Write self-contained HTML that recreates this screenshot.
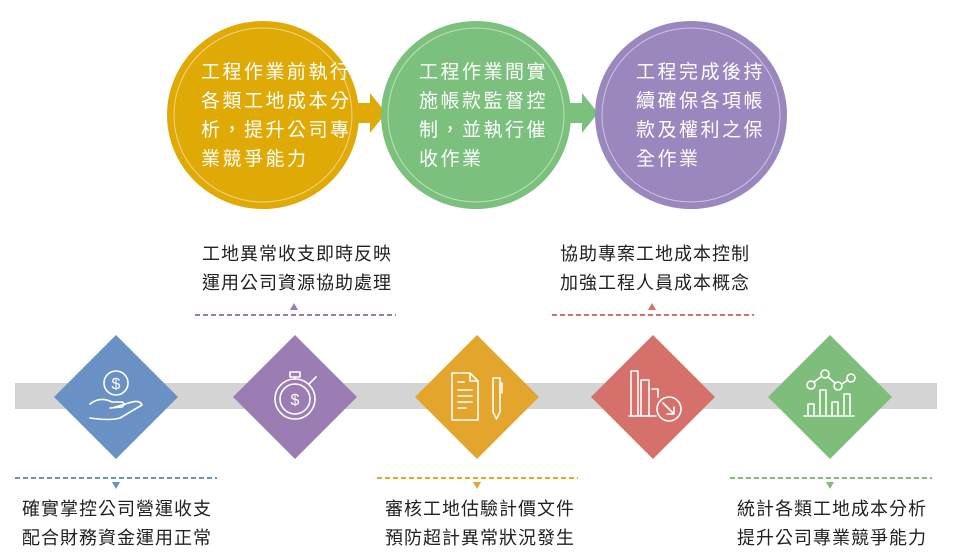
<!DOCTYPE html>
<html><head><meta charset="utf-8"><style>
body{margin:0;width:959px;height:556px;background:#fff;overflow:hidden;position:relative;font-family:"Liberation Sans","Noto Sans CJK TC",sans-serif}
.t{position:absolute;color:#222;font-size:18px;line-height:29px;white-space:nowrap;letter-spacing:1px}
.c{position:absolute;color:#fff;font-size:19px;line-height:29px;white-space:nowrap;letter-spacing:2.5px}
</style></head><body>
<svg width="959" height="556" style="position:absolute;left:0;top:0">
<polygon points="354,103 370,103 370,93 386,113 370,133 370,123 354,123" fill="#E0AA06"/>
<polygon points="565,103 582,103 582,93 598,113 582,133 582,123 565,123" fill="#7BC07C"/>
<ellipse cx="263" cy="115" rx="96" ry="94" fill="#E0AA06"/>
<ellipse cx="263" cy="115" rx="89" ry="87" fill="none" stroke="#fff" stroke-opacity=".5" stroke-width="1"/>
<ellipse cx="476" cy="115" rx="95" ry="94" fill="#7BC07C"/>
<ellipse cx="476" cy="115" rx="88" ry="87" fill="none" stroke="#fff" stroke-opacity=".5" stroke-width="1"/>
<ellipse cx="691" cy="115" rx="96" ry="94" fill="#9A87BE"/>
<ellipse cx="691" cy="115" rx="89" ry="87" fill="none" stroke="#fff" stroke-opacity=".5" stroke-width="1"/>
<rect x="15" y="383" width="922" height="26" fill="#D4D4D4"/>
<polygon points="116,335 178,397 116,459 54,397" fill="#6A91C3"/>
<polygon points="295,335 357,397 295,459 233,397" fill="#9B7DB4"/>
<polygon points="477,335 539,397 477,459 415,397" fill="#E3A52C"/>
<polygon points="653,335 715,397 653,459 591,397" fill="#D5716A"/>
<polygon points="830,335 892,397 830,459 768,397" fill="#7FBE7A"/>
<g stroke-width="2" stroke-dasharray="5,3">
<line x1="195" y1="315" x2="396" y2="315" stroke="#9B7DB4"/>
<line x1="552" y1="315" x2="754" y2="315" stroke="#D5716A"/>
<line x1="15" y1="478" x2="217" y2="478" stroke="#6A91C3"/>
<line x1="377" y1="478" x2="578" y2="478" stroke="#E3A52C"/>
<line x1="730" y1="478" x2="932" y2="478" stroke="#7FBE7A"/>
</g>
<polygon points="294,303 298,310 290,310" fill="#9B7DB4"/>
<polygon points="652,303 656,310 648,310" fill="#D5716A"/>
<polygon points="112,482 120,482 116,489" fill="#6A91C3"/>
<polygon points="473,482 481,482 477,489" fill="#E3A52C"/>
<polygon points="826,482 834,482 830,489" fill="#7FBE7A"/>
<g fill="none" stroke="#fff" stroke-width="1.6" stroke-linecap="round" stroke-linejoin="round">
<circle cx="116" cy="383" r="12"/>
<text x="116" y="389" font-size="16" fill="#fff" stroke="none" text-anchor="middle" font-family="Liberation Sans">$</text>
<path d="M90,404 q10,-8 22,-2 l10,0 q4,2 0,5 l-12,1 M112,408 l20,-6 q8,-2 10,3 l-22,13 q-10,3 -30,0"/>
<circle cx="295" cy="399" r="20"/><circle cx="295" cy="399" r="15"/>
<rect x="290" y="372" width="10" height="5"/><line x1="295" y1="377" x2="295" y2="379"/>
<line x1="309" y1="384" x2="316" y2="377"/>
<text x="295" y="405" font-size="16" fill="#fff" stroke="none" text-anchor="middle" font-family="Liberation Sans">$</text>
<path d="M452,373 h18 l8,8 v39 h-26 z M470,373 v8 h8"/>
<line x1="458" y1="382" x2="464" y2="382"/><line x1="458" y1="390" x2="472" y2="390"/><line x1="458" y1="396" x2="472" y2="396"/><line x1="458" y1="402" x2="472" y2="402"/><line x1="458" y1="408" x2="466" y2="408"/>
<path d="M493,378 h7 v34 l-3.5,7 l-3.5,-7 z M500,383 h2 v10"/>
<path d="M631,371 h7 v45 h-7 z M641,380 h8 v36 h-8 z M652,389 h6 v8"/><line x1="629" y1="416" x2="656" y2="416"/>
<circle cx="669" cy="409" r="12"/><path d="M663,403 l11,11 M667,414 h7 v-7"/>
<path d="M804,416 h50 M808,416 v-12 h6 v12 M820,416 v-26 h6 v26 M832,416 v-14 h6 v14 M844,416 v-22 h6 v22"/>
<circle cx="811" cy="385" r="4"/><circle cx="825" cy="374" r="4"/><circle cx="838" cy="386" r="4"/><circle cx="851" cy="378" r="4"/>
<path d="M814,382 l8,-6 M828,377 l7,6 M842,384 l6,-4"/>
</g>
</svg>
<div class="c" style="left:201px;top:58px">工程作業前執行<br>各類工地成本分<br>析，提升公司專<br>業競爭能力</div>
<div class="c" style="left:419px;top:58px">工程作業間實<br>施帳款監督控<br>制，並執行催<br>收作業</div>
<div class="c" style="left:636px;top:58px">工程完成後持<br>續確保各項帳<br>款及權利之保<br>全作業</div>
<div class="t" style="left:202px;top:240px">工地異常收支即時反映<br>運用公司資源協助處理</div>
<div class="t" style="left:560px;top:240px">協助專案工地成本控制<br>加強工程人員成本概念</div>
<div class="t" style="left:22px;top:495px">確實掌控公司營運收支<br>配合財務資金運用正常</div>
<div class="t" style="left:385px;top:495px">審核工地估驗計價文件<br>預防超計異常狀況發生</div>
<div class="t" style="left:737px;top:495px">統計各類工地成本分析<br>提升公司專業競爭能力</div>
</body></html>
